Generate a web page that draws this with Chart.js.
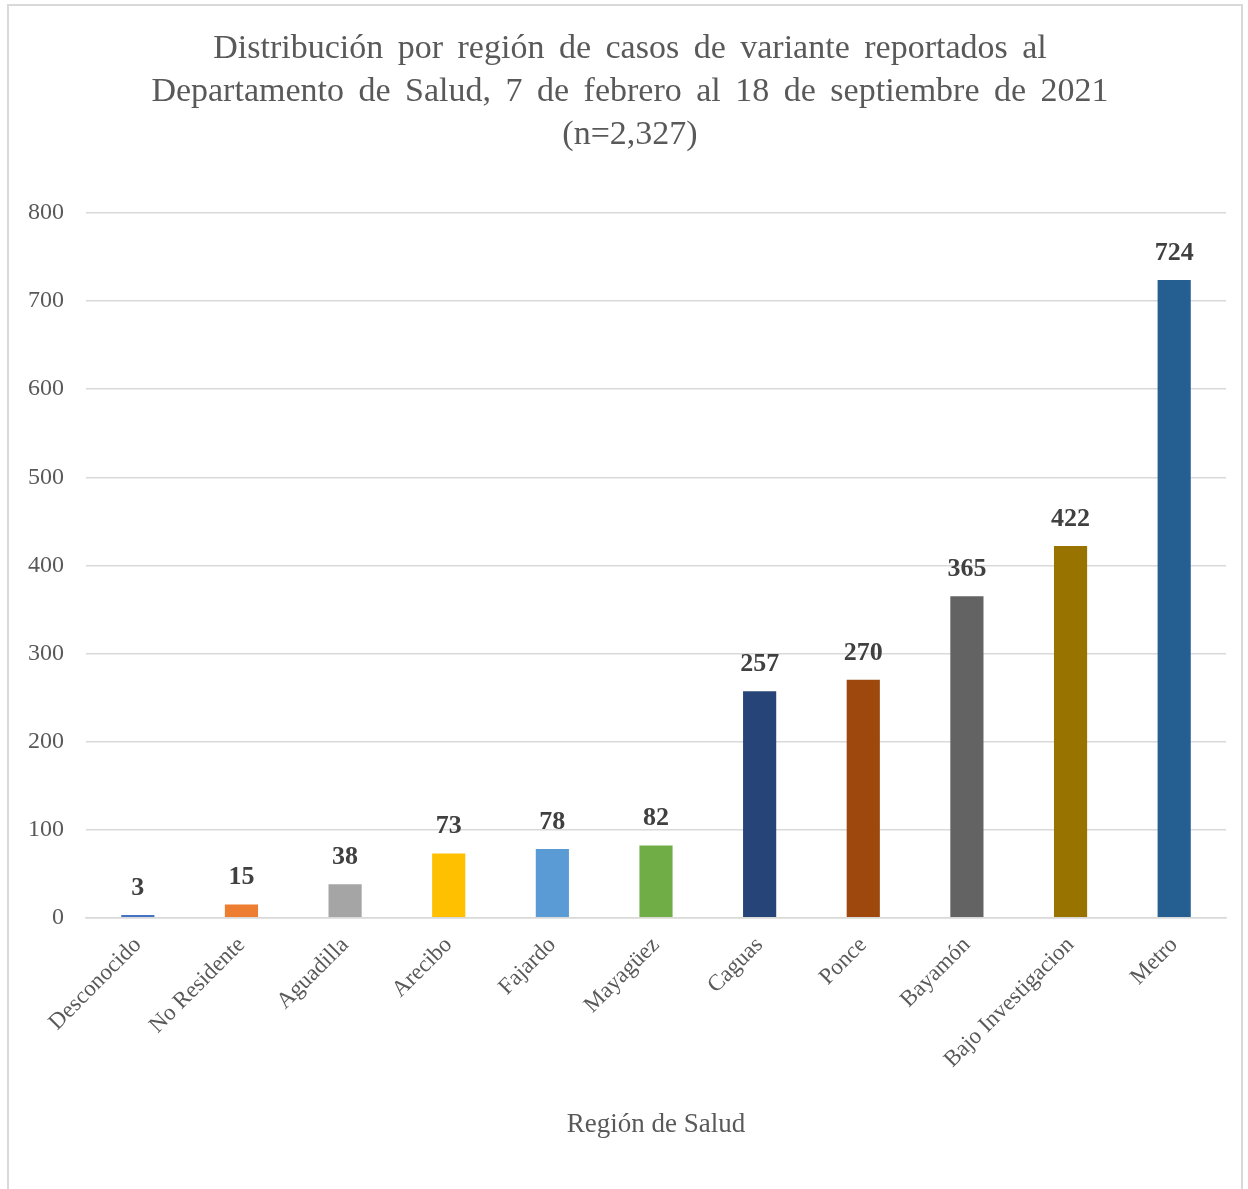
<!DOCTYPE html>
<html>
<head>
<meta charset="utf-8">
<script src="https://cdn.jsdelivr.net/npm/chart.js@4/dist/chart.umd.min.js"></script>
<style>
  html, body { margin: 0; padding: 0; background: #fff; }
  #frame { position: absolute; left: 7px; top: 4px; width: 1236px; height: 1200px; border: 2px solid #d9d9d9; box-sizing: border-box; }
  #wrap { position: absolute; left: 0; top: 0; width: 1248px; height: 1189px; }
</style>
</head>
<body>
<div id="frame"></div>
<div id="wrap"><canvas id="chart"></canvas></div>
<script>
// regions, sorted by case count
const regions = ['Desconocido', 'No Residente', 'Aguadilla', 'Arecibo', 'Fajardo', 'Mayagüez',
  'Caguas', 'Ponce', 'Bayamón', 'Bajo Investigacion', 'Metro'];
const cases = [3, 15, 38, 73, 78, 82, 257, 270, 365, 422, 724];
const barColors = ['#4472C4', '#ED7D31', '#A5A5A5', '#FFC000', '#5B9BD5', '#70AD47',
  '#264478', '#9E480E', '#636363', '#997300', '#255E91'];
const yTicks = [0, 100, 200, 300, 400, 500, 600, 700, 800];

const titleLines = [
  'Distribución por región de casos de variante reportados al',
  'Departamento de Salud, 7 de febrero al 18 de septiembre de 2021',
  '(n=2,327)'
];

const serif = "'Liberation Serif', 'Times New Roman', serif";

// title drawn by hand: the original is justified, so words sit further apart
const spacedTitle = {
  id: 'spacedTitle',
  afterDraw(chart) {
    const ctx = chart.ctx;
    ctx.save();
    ctx.font = '34px ' + serif;
    ctx.fillStyle = '#595959';
    ctx.textAlign = 'center';
    ctx.textBaseline = 'middle';
    ctx.wordSpacing = '6px';
    titleLines.forEach((line, i) => {
      ctx.fillText(line, chart.width / 2 + 6, 49 + i * 43);
    });
    ctx.restore();
  }
};

// simple value labels on top of each bar
const barLabels = {
  id: 'barLabels',
  afterDatasetsDraw(chart) {
    const ctx = chart.ctx;
    const meta = chart.getDatasetMeta(0);
    ctx.save();
    ctx.font = 'bold 26px ' + serif;
    ctx.fillStyle = '#404040';
    ctx.textAlign = 'center';
    ctx.textBaseline = 'alphabetic';
    meta.data.forEach((bar, i) => {
      ctx.fillText(String(cases[i]), bar.x, bar.y - 20);
    });
    ctx.restore();
  }
};

const ctx = document.getElementById('chart').getContext('2d');
new Chart(ctx, {
  type: 'bar',
  data: {
    labels: regions,
    datasets: [{
      data: cases,
      backgroundColor: barColors,
      borderWidth: 0,
      categoryPercentage: 1,
      barPercentage: 0.32
    }]
  },
  options: {
    responsive: true,
    maintainAspectRatio: false,
    animation: false,
    layout: { padding: { left: 6, right: 22, top: 213, bottom: 48 } },
    plugins: {
      legend: { display: false },
      tooltip: { enabled: false },
      title: { display: false }
    },
    scales: {
      y: {
        min: 0,
        max: 800,
        afterBuildTicks(scale) { scale.ticks = yTicks.map(v => ({ value: v })); },
        ticks: { color: '#595959', font: { family: serif, size: 24 }, padding: 22 },
        grid: { color: '#d9d9d9', lineWidth: 1.5, drawTicks: false },
        border: { display: false }
      },
      x: {
        grid: { display: false, drawTicks: false },
        border: { color: '#d9d9d9', width: 1.5 },
        ticks: {
          color: '#595959',
          font: { family: serif, size: 23 },
          minRotation: 45,
          maxRotation: 45,
          padding: 14
        },
        title: {
          display: true,
          text: 'Región de Salud',
          color: '#595959',
          font: { family: serif, size: 27 },
          padding: { top: 21, bottom: 0 }
        }
      }
    }
  },
  plugins: [spacedTitle, barLabels]
});
</script>
</body>
</html>
